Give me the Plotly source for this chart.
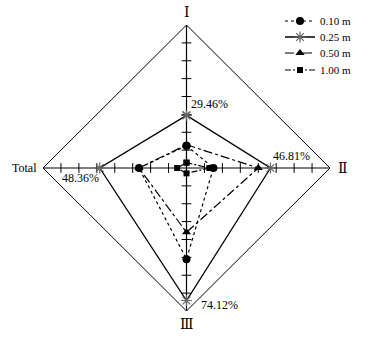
import numpy as np
import plotly.graph_objects as go

directions = ["Ⅰ", "Ⅱ", "Ⅲ", "Total"]
angles_deg = [90, 0, 270, 180]
series_names = ["0.10 m", "0.25 m", "0.50 m", "1.00 m"]
v010 = [12.5, 15.0, 51.0, 26.5]
v025 = [29.46, 46.81, 74.12, 48.36]
v050 = [13.0, 40.0, 36.0, 26.5]
v100 = [3.0, 12.8, 3.0, 5.2]
axis_max = 80
tick_values = [10, 20, 30, 40, 50, 60, 70]

FONT = "Liberation Serif, Times New Roman, DejaVu Serif, Noto Sans CJK SC, serif"

def to_xy(vals):
    a = np.radians(angles_deg)
    v = np.array(vals, dtype=float)
    x = np.round(v * np.cos(a), 6)
    y = np.round(v * np.sin(a), 6)
    return list(x) + [x[0]], list(y) + [y[0]]

fig = go.Figure()

# outer diamond
dx, dy = to_xy([axis_max] * 4)
fig.add_trace(go.Scatter(x=dx, y=dy, mode="lines", line=dict(color="black", width=1),
                         showlegend=False, hoverinfo="skip"))
# axes
fig.add_trace(go.Scatter(x=[-axis_max, axis_max], y=[0, 0], mode="lines",
                         line=dict(color="black", width=1.2), showlegend=False, hoverinfo="skip"))
fig.add_trace(go.Scatter(x=[0, 0], y=[-axis_max, axis_max], mode="lines",
                         line=dict(color="black", width=1.2), showlegend=False, hoverinfo="skip"))
# ticks
tx = [t for t in tick_values] + [-t for t in tick_values]
fig.add_trace(go.Scatter(x=tx, y=[0] * len(tx), mode="markers",
                         marker=dict(symbol="line-ns-open", size=7, color="black",
                                     line=dict(color="black", width=1)),
                         showlegend=False, hoverinfo="skip", cliponaxis=False))
fig.add_trace(go.Scatter(x=[0] * len(tx), y=tx, mode="markers",
                         marker=dict(symbol="line-ew-open", size=7, color="black",
                                     line=dict(color="black", width=1)),
                         showlegend=False, hoverinfo="skip", cliponaxis=False))

styles = [
    (v010, dict(dash="dot", width=1.2), dict(symbol="circle", size=8, color="black")),
    (v025, dict(dash="solid", width=1.3), dict(symbol="asterisk-open", size=9,
                                              line=dict(color="#666666", width=1.2), color="#666666")),
    (v050, dict(dash="dashdot", width=1.2), dict(symbol="triangle-up", size=8, color="black")),
    (v100, dict(dash="6px,2px,2px,2px", width=1.2), dict(symbol="square", size=6, color="black")),
]
legend_ids = ["legend", "legend2", "legend3", "legend4"]
for name, (vals, ln, mk), lid in zip(series_names, styles, legend_ids):
    x, y = to_xy(vals)
    ln["color"] = "black"
    fig.add_trace(go.Scatter(x=x, y=y, mode="lines+markers", name=name, legend=lid,
                             line=ln, marker=mk, cliponaxis=False))

ann = []
# direction labels
ann.append(dict(x=0, y=axis_max, text=directions[0], showarrow=False, yanchor="bottom", yshift=3,
                font=dict(size=14)))
ann.append(dict(x=axis_max, y=0, text=directions[1], showarrow=False, xanchor="left", xshift=6,
                font=dict(size=14)))
ann.append(dict(x=0, y=-axis_max, text=directions[2], showarrow=False, yanchor="top", yshift=-4,
                font=dict(size=14)))
ann.append(dict(x=-axis_max, y=0, text=directions[3], showarrow=False, xanchor="right", xshift=-4,
                font=dict(size=12)))
# value labels for 0.25 m
ann.append(dict(x=0, y=v025[0], text=f"{v025[0]:.2f}%", showarrow=False, xanchor="left",
                yanchor="middle", xshift=2, yshift=11, font=dict(size=12)))
ann.append(dict(x=v025[1], y=0, text=f"{v025[1]:.2f}%", showarrow=False, xanchor="left",
                yanchor="middle", xshift=1, yshift=12, font=dict(size=12)))
ann.append(dict(x=0, y=-v025[2], text=f"{v025[2]:.2f}%", showarrow=False, xanchor="left",
                yanchor="middle", xshift=12, yshift=-5, font=dict(size=12)))
ann.append(dict(x=-v025[3], y=0, text=f"{v025[3]:.2f}%", showarrow=False, xanchor="right",
                yanchor="middle", xshift=1, yshift=-10, font=dict(size=12)))

legend_rows_px = [21, 37, 53, 70]
legend_layout = {}
for lid, ypx in zip(legend_ids, legend_rows_px):
    legend_layout[lid] = dict(xref="container", yref="container", x=280 / 375, y=1 - ypx / 338,
                              xanchor="left", yanchor="middle",
                              font=dict(size=11, family=FONT), bgcolor="rgba(0,0,0,0)",
                              itemwidth=30, borderwidth=0)

fig.update_layout(
    width=375, height=338,
    margin=dict(l=43, r=45, t=25, b=27, autoexpand=False),
    paper_bgcolor="white", plot_bgcolor="white",
    font=dict(family=FONT, color="black", size=12),
    xaxis=dict(range=[-axis_max, axis_max], visible=False, fixedrange=True),
    yaxis=dict(range=[-axis_max, axis_max], visible=False, fixedrange=True),
    annotations=ann,
    showlegend=True,
    hovermode=False,
    **legend_layout,
)

fig.write_html("out.html", config={"displayModeBar": False},
               post_script="document.body.style.margin='0';document.body.style.overflow='hidden';")
